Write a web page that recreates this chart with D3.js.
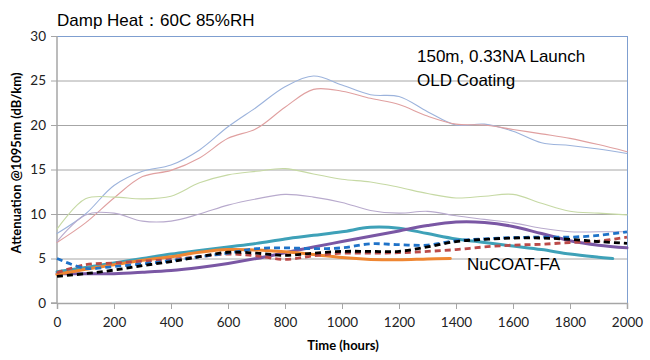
<!DOCTYPE html>
<html><head><meta charset="utf-8">
<script src="https://cdn.jsdelivr.net/npm/d3@7"></script>
<style>body{margin:0;background:#fff}svg{display:block}</style>
</head><body>
<svg id="c" width="650" height="360"></svg>
<script>
const hoursFull = [0,100,200,300,400,500,600,700,800,900,1000,1100,1200,1300,1400,1500,1600,1700,1800,1900,2000];
const hoursTeal = [0,100,200,300,400,500,600,700,800,900,1000,1100,1200,1300,1400,1500,1600,1700,1800,1900,1950];
const hoursOrange = [0,100,200,300,400,500,600,700,800,900,1000,1100,1200,1300,1380];

// OLD coating (thin)
const oldBlue     = [7.8,10.0,13.2,14.8,15.5,17.2,19.8,22.0,24.3,25.5,24.5,23.4,23.2,21.5,20.0,20.1,19.3,18.0,17.7,17.3,16.8];
const oldRed      = [6.8,9.0,11.8,14.2,14.9,16.3,18.5,19.6,22.0,24.0,23.8,23.0,22.3,21.0,20.1,20.0,19.5,19.0,18.5,17.8,17.0];
const oldGreen    = [8.3,11.7,11.9,11.7,12.0,13.5,14.4,14.8,15.1,14.5,13.9,13.6,13.0,12.3,11.8,12.0,12.2,11.2,10.3,10.1,9.9];
const oldLavender = [6.9,9.9,10.1,9.2,9.2,10.0,11.0,11.7,12.2,11.9,11.3,10.4,10.1,10.3,9.8,9.4,9.0,8.4,8.0,8.0,8.0];
// NuCOAT-FA (thick)
const newTeal     = [3.5,4.0,4.5,5.0,5.5,5.9,6.3,6.7,7.2,7.6,8.0,8.5,8.4,7.8,7.2,6.8,6.4,6.0,5.5,5.15,5.0];
const newPurple   = [3.3,3.3,3.3,3.45,3.65,4.0,4.45,5.0,5.65,6.3,6.9,7.5,8.1,8.7,9.1,9.05,8.6,7.8,7.0,6.5,6.2];
const newOrange   = [3.2,3.8,4.3,4.8,5.2,5.7,6.0,5.95,5.75,5.45,5.1,4.9,4.85,4.95,5.0];
const newBlueDash = [5.0,3.9,4.1,4.4,4.75,5.2,5.6,6.1,6.2,6.1,6.2,6.65,6.55,6.5,7.0,7.2,7.35,7.4,7.4,7.6,8.0];
const newRedDash  = [3.4,4.3,4.5,4.7,4.9,5.2,5.5,5.3,4.9,5.3,5.6,5.6,5.65,5.8,6.0,6.3,6.5,6.6,6.8,6.95,7.4];
const newBlackDash= [3.0,3.3,3.7,4.2,4.65,5.2,5.7,5.6,5.35,5.6,5.8,5.8,5.8,6.3,6.9,7.15,7.3,7.3,7.15,6.9,6.7];

const xTicks = [0,200,400,600,800,1000,1200,1400,1600,1800,2000];
const yTicks = [0,5,10,15,20,25,30];

const titleText = "Damp Heat\uFF1A60C 85%RH";
const note1 = "150m, 0.33NA Launch";
const note2 = "OLD Coating";
const note3 = "NuCOAT-FA";
const xTitle = "Time (hours)";
const yTitle = "Attenuation @1095nm (dB/km)";

const series = [
  {h: hoursFull, v: oldBlue, color: "#9cb3dc", w: 1.1},
  {h: hoursFull, v: oldRed, color: "#e0a0a0", w: 1.1},
  {h: hoursFull, v: oldGreen, color: "#c6d9a4", w: 1.1},
  {h: hoursFull, v: oldLavender, color: "#b8aacd", w: 1.1},
  {h: hoursTeal, v: newTeal, color: "#3ea1b8", w: 3},
  {h: hoursFull, v: newPurple, color: "#7a57a4", w: 3},
  {h: hoursOrange, v: newOrange, color: "#ef8632", w: 3},
  {h: hoursFull, v: newRedDash, color: "#bb4a48", w: 2.8, dash: "6,4"},
  {h: hoursFull, v: newBlueDash, color: "#1f72c8", w: 2.8, dash: "6,4"},
  {h: hoursFull, v: newBlackDash, color: "#000000", w: 2.8, dash: "6,4"}
];

const svg = d3.select("#c");
const m = {l: 57, r: 627, t: 36, b: 303};
const x = d3.scaleLinear().domain([0, 2000]).range([m.l, m.r]);
const y = d3.scaleLinear().domain([0, 30]).range([m.b, m.t]);

// gridlines
svg.append("g").selectAll("line").data(yTicks.filter(d => d > 0 && d < 30)).join("line")
  .attr("x1", m.l).attr("x2", m.r).attr("y1", d => y(d) + 0.5).attr("y2", d => y(d) + 0.5)
  .attr("stroke", "#a6a6a6").attr("stroke-width", 1);

// top & right frame
svg.append("line").attr("x1", m.l).attr("x2", m.r + 0.5).attr("y1", m.t + 0.5).attr("y2", m.t + 0.5)
  .attr("stroke", "#7f9fd0").attr("stroke-width", 1);
svg.append("line").attr("x1", m.r + 0.5).attr("x2", m.r + 0.5).attr("y1", m.t).attr("y2", m.b)
  .attr("stroke", "#7f9fd0").attr("stroke-width", 1);

// axes
const fontAxis = "Lato, 'Liberation Sans', sans-serif";
const yAxis = svg.append("g").attr("transform", `translate(${m.l},0)`)
  .call(d3.axisLeft(y).tickValues(yTicks).tickFormat(d3.format("d")).tickSize(6).tickPadding(5));
const xAxis = svg.append("g").attr("transform", `translate(0,${m.b})`)
  .call(d3.axisBottom(x).tickValues(xTicks).tickFormat(d3.format("d")).tickSize(6).tickPadding(8));
[yAxis, xAxis].forEach(g => {
  g.select(".domain").attr("stroke", "#a6a6a6").attr("stroke-width", 1.5);
  g.selectAll(".tick line").attr("stroke", "#a6a6a6");
  g.selectAll(".tick text").attr("fill", "#222").style("font-family", fontAxis).style("font-size", "13.5px");
});
yAxis.select(".domain").attr("d", `M-6,${m.b}H0V${m.t}`);

// lines
const line = d3.line().defined(d => d[1] != null)
  .x(d => x(d[0])).y(d => y(d[1])).curve(d3.curveCatmullRom.alpha(0.5));
series.forEach(s => {
  svg.append("path").datum(s.h.map((h, i) => [h, s.v[i]]))
    .attr("d", line).attr("fill", "none").attr("stroke", s.color)
    .attr("stroke-width", s.w).attr("stroke-dasharray", s.dash || null)
    .attr("stroke-linecap", s.dash ? "butt" : "round");
});

// texts
const fontMain = "'Liberation Sans', Arial, sans-serif";
const fs = "17px";
svg.append("text").attr("x", 57).attr("y", 26).text(titleText)
  .style("font-family", fontMain).style("font-size", fs).attr("fill", "#000");
svg.append("text").attr("x", 417).attr("y", 62).text(note1)
  .style("font-family", fontMain).style("font-size", fs).attr("fill", "#000");
svg.append("text").attr("x", 417).attr("y", 86).text(note2)
  .style("font-family", fontMain).style("font-size", fs).attr("fill", "#000");
svg.append("text").attr("x", 467).attr("y", 270).text(note3)
  .style("font-family", fontMain).style("font-size", fs).attr("fill", "#000");
svg.append("text").attr("x", 343).attr("y", 350).attr("text-anchor", "middle").text(xTitle)
  .style("font-family", fontAxis).style("font-size", "13px").style("font-weight", "bold");
svg.append("text").attr("transform", "translate(21,163) rotate(-90)").attr("text-anchor", "middle").text(yTitle)
  .style("font-family", fontAxis).style("font-size", "13px").style("font-weight", "bold");
</script>
</body></html>
